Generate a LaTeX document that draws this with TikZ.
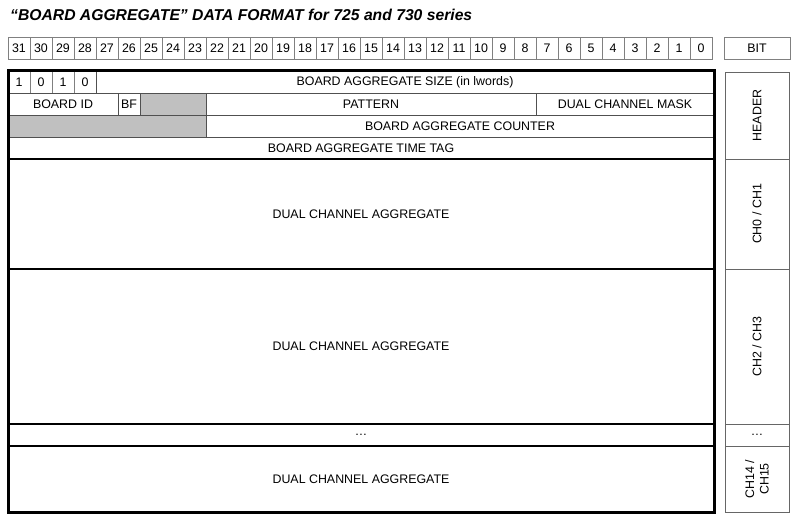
\documentclass[tikz,border=0pt]{standalone}
\usepackage{fontspec}
\setmainfont{Liberation Sans}
\definecolor{shade}{HTML}{C0C0C0}
\definecolor{thin}{HTML}{808080}
\definecolor{hline}{HTML}{505050}
\begin{document}
\begin{tikzpicture}[x=1pt,y=-1pt,
  txt/.style={font=\fontsize{12.4}{14}\selectfont, text=black},
  bitcell/.style={draw=thin, line width=0.8pt, inner sep=0pt, minimum height=22pt, minimum width=22pt, txt},
  cell/.style={draw=hline, line width=0.8pt, inner sep=0pt, txt},
  gcell/.style={cell, fill=shade},
  rcell/.style={draw=black!60, line width=0.9pt, inner sep=0pt, minimum width=64pt},
  rtxt/.style={txt, rotate=90, align=center, inner sep=0pt},
  frame/.style={line width=3pt, black},
  sect/.style={line width=2.2pt, black}]
\useasboundingbox (0,0) rectangle (800,524);
\node[anchor=base west, inner sep=0pt, font=\fontsize{15.7}{18}\selectfont\bfseries\itshape] (title) at (10,21) {“BOARD AGGREGATE” DATA FORMAT for 725 and 730 series};
% bit row
\foreach \k in {0,...,31} \node[bitcell] (bit\k) at ({19+(31-\k)*22},48) {\k};
\node[bitcell, minimum width=66pt] (bitlbl) at (757,48) {BIT};
% header row 1
\node[cell, minimum width=22pt, minimum height=22pt, draw=thin] (h1a) at (19,82) {1};
\node[cell, minimum width=22pt, minimum height=22pt, draw=thin] (h1b) at (41,82) {0};
\node[cell, minimum width=22pt, minimum height=22pt, draw=thin] (h1c) at (63,82) {1};
\node[cell, minimum width=22pt, minimum height=22pt, draw=thin] (h1d) at (85,82) {0};
\node[cell, minimum width=618pt, minimum height=22pt] (size) at (405,82) {BOARD AGGREGATE SIZE (in lwords)};
% header row 2
\node[cell, minimum width=110pt, minimum height=22pt] (boardid) at (63,104) {BOARD ID};
\node[cell, minimum width=22pt, minimum height=22pt] (bf) at (129,104) {BF};
\node[gcell, minimum width=66pt, minimum height=22pt] (g1) at (173,104) {};
\node[cell, minimum width=330pt, minimum height=22pt] (pattern) at (371,104) {PATTERN};
\node[cell, minimum width=178pt, minimum height=22pt] (mask) at (625,104) {DUAL CHANNEL MASK};
% header row 3
\node[gcell, minimum width=198pt, minimum height=22pt] (g2) at (107,126) {};
\node[cell, minimum width=508pt, minimum height=22pt] (counter) at (460,126) {BOARD AGGREGATE COUNTER};
% header row 4
\node[cell, minimum width=706pt, minimum height=22pt] (timetag) at (361,148) {BOARD AGGREGATE TIME TAG};
% data sections
\node[txt, minimum width=706pt, minimum height=110pt, inner sep=0pt] (d01) at (361,214) {DUAL CHANNEL AGGREGATE};
\node[txt, minimum width=706pt, minimum height=155pt, inner sep=0pt] (d23) at (361,346.5) {DUAL CHANNEL AGGREGATE};
\node[txt, minimum width=706pt, minimum height=22pt, inner sep=0pt] (ddots) at (361,435) {\ldots};
\node[txt, minimum width=706pt, minimum height=66pt, inner sep=0pt] (d1415) at (361,479) {DUAL CHANNEL AGGREGATE};
\draw[sect] (8,159) -- (714,159);
\draw[sect] (8,269) -- (714,269);
\draw[sect] (8,424) -- (714,424);
\draw[sect] (8,446) -- (714,446);
\draw[frame] (8,71) rectangle (714,512.5);
% right column
\node[rcell, minimum height=87pt] (rh) at (757,115.5) {};
\node[rcell, minimum height=110pt] (r01) at (757,214) {};
\node[rcell, minimum height=155pt] (r23) at (757,346.5) {};
\node[rcell, minimum height=22pt] (rdots) at (757,435) {};
\node[rcell, minimum height=66pt] (r1415) at (757,479) {};
\node[rtxt] (th) at (rh.center) {HEADER};
\node[rtxt] (t01) at (r01.center) {CH0 / CH1};
\node[rtxt] (t23) at (r23.center) {CH2 / CH3};
\node[txt] (tdots) at (rdots.center) {\ldots};
\node[rtxt, font=\fontsize{12.4}{14.5}\selectfont] (t1415) at (r1415.center) {CH14 /\\CH15};
\end{tikzpicture}
\end{document}
